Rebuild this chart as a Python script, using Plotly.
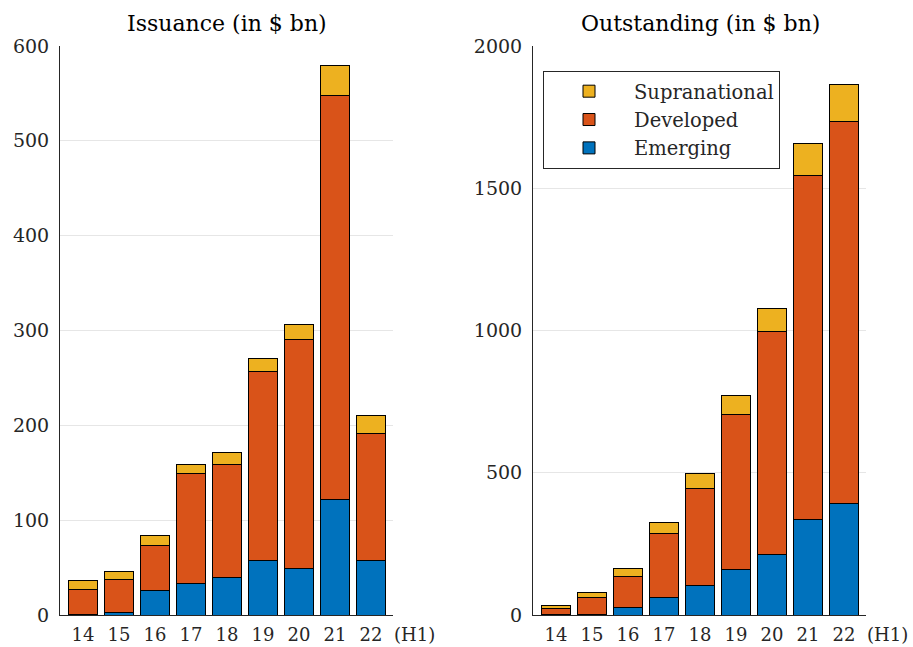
import plotly.graph_objects as go

years = ["14", "15", "16", "17", "18", "19", "20", "21", "22"]
xpos = [14, 15, 16, 17, 18, 19, 20, 21, 22]

iss_emerging = [0.5, 3, 25.6, 32.7, 39.7, 58, 48.9, 121.6, 57.7]
iss_developed_top = [27, 37, 73.5, 149.5, 159, 256.8, 291, 547.5, 191.2]
iss_supra_top = [36, 45.5, 83.7, 159, 171.6, 271, 306, 579, 210.6]

out_emerging = [1, 2.5, 27, 61, 102, 160.6, 211, 334, 391]
out_developed_top = [24.6, 63, 136, 287, 446, 704, 998, 1545, 1736]
out_supra_top = [34, 80, 165, 326, 498, 770, 1079, 1656, 1866]

iss_developed = [d - e for d, e in zip(iss_developed_top, iss_emerging)]
iss_supra = [s - d for s, d in zip(iss_supra_top, iss_developed_top)]
out_developed = [d - e for d, e in zip(out_developed_top, out_emerging)]
out_supra = [s - d for s, d in zip(out_supra_top, out_developed_top)]

colors = {"Emerging": "#0072BD", "Developed": "#D95319", "Supranational": "#EDB120"}
FONT = "DejaVu Serif"
TXT = "#262626"

fig = go.Figure()

def add_stack(xa, ya, series, show):
    for name, vals in series:
        fig.add_trace(go.Bar(
            x=xpos, y=vals, name=name, xaxis=xa, yaxis=ya,
            marker=dict(color=colors[name], line=dict(color="black", width=1)),
            width=0.8, showlegend=show, legendgroup=name,
        ))

add_stack("x", "y", [("Emerging", iss_emerging), ("Developed", iss_developed), ("Supranational", iss_supra)], False)
add_stack("x2", "y2", [("Emerging", out_emerging), ("Developed", out_developed), ("Supranational", out_supra)], True)

W, H = 913, 647
def px_x(p): return p / W
def px_y(p): return 1 - p / H

xcommon = dict(
    tickmode="array", tickvals=xpos, ticktext=years, range=[13.36, 22.61],
    showline=True, linecolor=TXT, linewidth=1, ticks="", showgrid=False,
    zeroline=False, tickfont=dict(family=FONT, size=18, color=TXT),
    ticklabelstandoff=3,
)
ycommon = dict(
    showline=True, linecolor=TXT, linewidth=1, ticks="", showgrid=True,
    gridcolor="#e6e6e6", gridwidth=1, zeroline=False,
    tickfont=dict(family=FONT, size=19, color=TXT),
    ticklabelstandoff=6,
)

fig.update_layout(
    width=W, height=H,
    margin=dict(l=0, r=0, t=0, b=0, autoexpand=False),
    paper_bgcolor="white", plot_bgcolor="white",
    barmode="stack",
    font=dict(family=FONT, color=TXT),
    xaxis=dict(domain=[px_x(60), px_x(393)], anchor="y", **xcommon),
    yaxis=dict(domain=[px_y(615), px_y(46)], anchor="x", range=[0, 600],
               tickvals=[0, 100, 200, 300, 400, 500, 600], **ycommon),
    xaxis2=dict(domain=[px_x(533), px_x(866)], anchor="y2", **xcommon),
    yaxis2=dict(domain=[px_y(615), px_y(46)], anchor="x2", range=[0, 2000],
                tickvals=[0, 500, 1000, 1500, 2000], **ycommon),
    legend=dict(
        x=px_x(543), y=px_y(71), xanchor="left", yanchor="top",
        bgcolor="white", bordercolor="#262626", borderwidth=1,
        traceorder="reversed", font=dict(family=FONT, size=19.5, color=TXT),
        itemwidth=80, tracegroupgap=0,
    ),
    showlegend=True,
)

def ann(text, xp, yp, size, color):
    fig.add_annotation(text=text, x=px_x(xp), y=px_y(yp), xref="paper", yref="paper",
                       xanchor="center", yanchor="middle", showarrow=False,
                       font=dict(family=FONT, size=size, color=color))

ann("Issuance (in $ bn)", 226.5, 24, 22, "black")
ann("Outstanding (in $ bn)", 700, 24, 22, "black")
ann("(H1)", 414, 634, 18, TXT)
ann("(H1)", 887, 634, 18, TXT)

fig.write_html("out.html", config={"displayModeBar": False},
               post_script="document.body.style.margin='0';")
